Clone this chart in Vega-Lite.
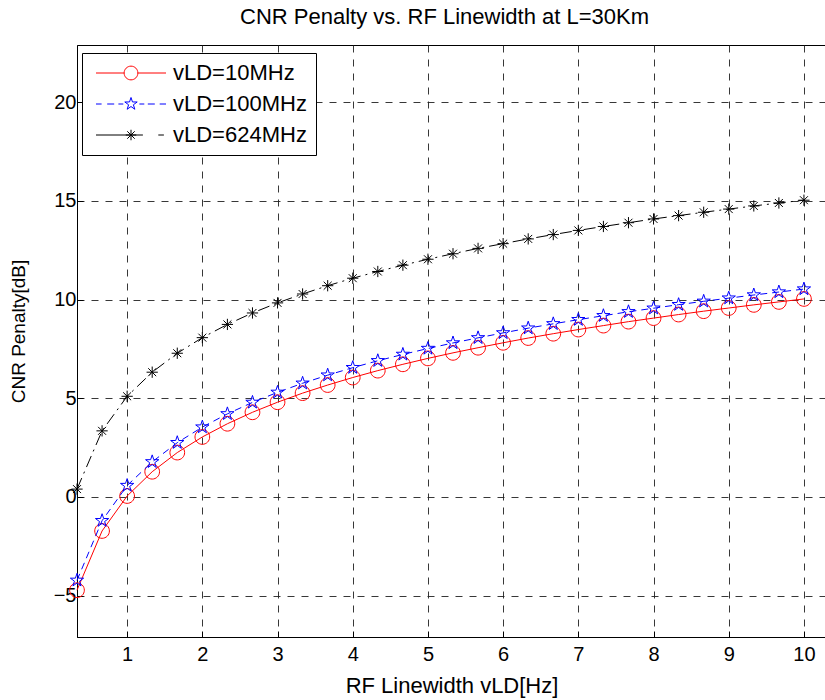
{
  "$schema": "https://vega.github.io/schema/vega-lite/v6.json",
  "width": 749,
  "height": 592,
  "autosize": {"type": "none"},
  "padding": {"left": 77, "top": 45, "right": 0, "bottom": 63},
  "background": "white",
  "config": {"view": {"stroke": "black", "strokeWidth": 1}, "font": "Liberation Sans"},
  "title": {"text": "CNR Penalty vs. RF Linewidth at L=30Km", "font": "Liberation Sans", "fontSize": 22, "fontWeight": "normal", "color": "black", "anchor": "middle", "dx": -7, "offset": -1, "baseline": "alphabetic"},
  "data": {"values": [
    {"x": 0.3333, "vLD=10MHz": -4.72, "vLD=100MHz": -4.22, "vLD=624MHz": 0.40},
    {"x": 0.6667, "vLD=10MHz": -1.72, "vLD=100MHz": -1.20, "vLD=624MHz": 3.35},
    {"x": 1, "vLD=10MHz": 0.05, "vLD=100MHz": 0.58, "vLD=624MHz": 5.10},
    {"x": 1.3333, "vLD=10MHz": 1.28, "vLD=100MHz": 1.78, "vLD=624MHz": 6.32},
    {"x": 1.6667, "vLD=10MHz": 2.25, "vLD=100MHz": 2.75, "vLD=624MHz": 7.28},
    {"x": 2, "vLD=10MHz": 3.04, "vLD=100MHz": 3.54, "vLD=624MHz": 8.07},
    {"x": 2.3333, "vLD=10MHz": 3.71, "vLD=100MHz": 4.21, "vLD=624MHz": 8.74},
    {"x": 2.6667, "vLD=10MHz": 4.29, "vLD=100MHz": 4.79, "vLD=624MHz": 9.32},
    {"x": 3, "vLD=10MHz": 4.80, "vLD=100MHz": 5.30, "vLD=624MHz": 9.83},
    {"x": 3.3333, "vLD=10MHz": 5.26, "vLD=100MHz": 5.76, "vLD=624MHz": 10.28},
    {"x": 3.6667, "vLD=10MHz": 5.67, "vLD=100MHz": 6.17, "vLD=624MHz": 10.70},
    {"x": 4, "vLD=10MHz": 6.05, "vLD=100MHz": 6.55, "vLD=624MHz": 11.08},
    {"x": 4.3333, "vLD=10MHz": 6.40, "vLD=100MHz": 6.90, "vLD=624MHz": 11.42},
    {"x": 4.6667, "vLD=10MHz": 6.72, "vLD=100MHz": 7.22, "vLD=624MHz": 11.74},
    {"x": 5, "vLD=10MHz": 7.02, "vLD=100MHz": 7.52, "vLD=624MHz": 12.04},
    {"x": 5.3333, "vLD=10MHz": 7.30, "vLD=100MHz": 7.80, "vLD=624MHz": 12.32},
    {"x": 5.6667, "vLD=10MHz": 7.56, "vLD=100MHz": 8.06, "vLD=624MHz": 12.59},
    {"x": 6, "vLD=10MHz": 7.81, "vLD=100MHz": 8.31, "vLD=624MHz": 12.83},
    {"x": 6.3333, "vLD=10MHz": 8.05, "vLD=100MHz": 8.55, "vLD=624MHz": 13.07},
    {"x": 6.6667, "vLD=10MHz": 8.27, "vLD=100MHz": 8.77, "vLD=624MHz": 13.29},
    {"x": 7, "vLD=10MHz": 8.48, "vLD=100MHz": 8.98, "vLD=624MHz": 13.50},
    {"x": 7.3333, "vLD=10MHz": 8.68, "vLD=100MHz": 9.18, "vLD=624MHz": 13.70},
    {"x": 7.6667, "vLD=10MHz": 8.88, "vLD=100MHz": 9.38, "vLD=624MHz": 13.89},
    {"x": 8, "vLD=10MHz": 9.06, "vLD=100MHz": 9.56, "vLD=624MHz": 14.08},
    {"x": 8.3333, "vLD=10MHz": 9.24, "vLD=100MHz": 9.74, "vLD=624MHz": 14.25},
    {"x": 8.6667, "vLD=10MHz": 9.41, "vLD=100MHz": 9.91, "vLD=624MHz": 14.42},
    {"x": 9, "vLD=10MHz": 9.57, "vLD=100MHz": 10.07, "vLD=624MHz": 14.58},
    {"x": 9.3333, "vLD=10MHz": 9.73, "vLD=100MHz": 10.23, "vLD=624MHz": 14.74},
    {"x": 9.6667, "vLD=10MHz": 9.88, "vLD=100MHz": 10.38, "vLD=624MHz": 14.89},
    {"x": 10, "vLD=10MHz": 10.03, "vLD=100MHz": 10.53, "vLD=624MHz": 15.03}
  ]},
  "transform": [{"fold": ["vLD=10MHz", "vLD=100MHz", "vLD=624MHz"], "as": ["series", "y"]}],
  "encoding": {
    "x": {"field": "x", "type": "quantitative", "scale": {"domain": [0.3333, 10.2933], "nice": false, "zero": false},
      "axis": {"orient": "bottom", "title": "RF Linewidth vLD[Hz]", "values": [1,2,3,4,5,6,7,8,9,10], "format": "d",
        "labelFont": "Liberation Sans", "labelFontSize": 20, "labelColor": "black", "labelPadding": 13,
        "domainColor": "black", "tickColor": "black", "tickSize": -6,
        "grid": true, "gridColor": "#222222", "gridDash": [7, 7], "gridOpacity": 0.9,
        "titleFont": "Liberation Sans", "titleFontSize": 22, "titleFontWeight": "normal", "titleColor": "black",
        "titleBaseline": "alphabetic", "titleY": 55}},
    "y": {"field": "y", "type": "quantitative", "scale": {"domain": [-7.09, 22.89], "nice": false, "zero": false},
      "axis": {"orient": "left", "title": "CNR Penalty[dB]", "values": [-5, 0, 5, 10, 15, 20], "format": "d",
        "labelFont": "Liberation Sans", "labelFontSize": 20, "labelColor": "black", "labelPadding": 7,
        "domainColor": "black", "tickColor": "black", "tickSize": -6,
        "grid": true, "gridColor": "#222222", "gridDash": [7, 7], "gridOpacity": 0.9,
        "titleFont": "Liberation Sans", "titleFontSize": 19, "titleFontWeight": "normal", "titleColor": "black",
        "titleAngle": 270, "titleBaseline": "middle", "titleAlign": "center", "titleX": -59, "titleY": 286}}
  },
  "layer": [
    {
      "transform": [{"filter": "datum.series === 'vLD=10MHz'"}],
      "mark": {"type": "line", "strokeWidth": 1, "color": "#ff0000"},
      "encoding": {}
    },
    {
      "transform": [{"filter": "datum.series === 'vLD=10MHz'"}],
      "mark": {"type": "point", "filled": false, "size": 225, "strokeWidth": 1, "opacity": 1, "color": "#ff0000",
        "shape": "M-0.98,0A0.98,0.98 0 1,1 0.98,0A0.98,0.98 0 1,1 -0.98,0"}
    },
    {
      "transform": [{"filter": "datum.series === 'vLD=100MHz'"}],
      "mark": {"type": "line", "strokeWidth": 1, "color": "#0000ff", "strokeDash": [7, 5]},
      "encoding": {}
    },
    {
      "transform": [{"filter": "datum.series === 'vLD=100MHz'"}],
      "mark": {"type": "point", "filled": false, "size": 225, "strokeWidth": 1, "opacity": 1, "color": "#0000ff",
        "shape": "M0,-0.93L0.212,-0.291L0.885,-0.287L0.342,0.111L0.547,0.752L0,0.36L-0.547,0.752L-0.342,0.111L-0.885,-0.287L-0.212,-0.291Z"}
    },
    {
      "transform": [{"filter": "datum.series === 'vLD=624MHz'"}],
      "mark": {"type": "line", "strokeWidth": 1, "color": "#000000", "strokeDash": [12, 5, 2, 5]},
      "encoding": {}
    },
    {
      "transform": [{"filter": "datum.series === 'vLD=624MHz'"}],
      "mark": {"type": "point", "filled": false, "size": 225, "strokeWidth": 1, "opacity": 1, "color": "#000000",
        "shape": "M0,-0.75V0.75M-0.75,0H0.75M-0.53,-0.53L0.53,0.53M-0.53,0.53L0.53,-0.53"}
    },
    {
      "mark": {"type": "point", "filled": false, "size": 196, "strokeWidth": 1, "opacity": 0},
      "encoding": {
        "color": {"field": "series", "type": "nominal",
          "scale": {"domain": ["vLD=10MHz", "vLD=100MHz", "vLD=624MHz"], "range": ["#ff0000", "#0000ff", "#000000"]},
          "legend": {"orient": "none", "legendX": 5, "legendY": 8, "title": null,
            "padding": 9, "rowPadding": 9, "symbolSize": 196, "symbolStrokeWidth": 1, "symbolOpacity": 1,
            "symbolOffset": 29, "labelOffset": 31,
            "labelFont": "Liberation Sans", "labelFontSize": 22, "labelColor": "black", "labelBaseline": "middle",
            "strokeColor": "black", "fillColor": "white"}},
        "shape": {"field": "series", "type": "nominal",
          "scale": {"domain": ["vLD=10MHz", "vLD=100MHz", "vLD=624MHz"],
            "range": ["M-5,0H-0.98M0.98,0H5M-0.98,0A0.98,0.98 0 1,1 0.98,0A0.98,0.98 0 1,1 -0.98,0",
                      "M-5,0H-4.2M-3.4,0H-2.4M-1.8,0H-1.1M1.2,0H1.9M2.4,0H3.4M4.1,0H5M0,-0.93L0.212,-0.291L0.885,-0.287L0.342,0.111L0.547,0.752L0,0.36L-0.547,0.752L-0.342,0.111L-0.885,-0.287L-0.212,-0.291Z",
                      "M-5,0H1.7M3.9,0H4.7M0,-0.75V0.75M-0.75,0H0.75M-0.53,-0.53L0.53,0.53M-0.53,0.53L0.53,-0.53"]}}
      }
    }
  ]
}
